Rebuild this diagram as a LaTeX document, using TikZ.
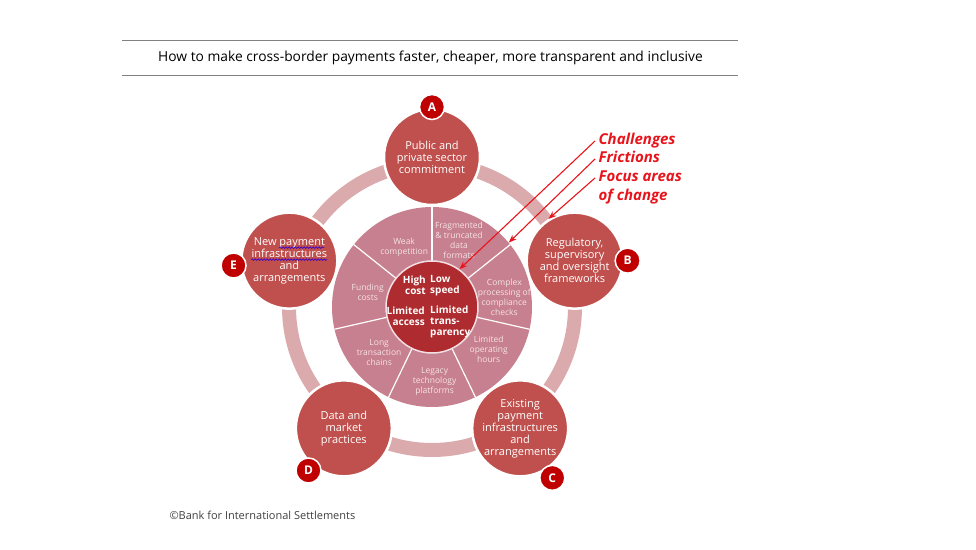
\documentclass[tikz,border=0pt]{standalone}
\usepackage{fontspec}
\setmainfont{Open Sans}
\usetikzlibrary{arrows.meta, positioning, calc, decorations.pathmorphing}

\definecolor{bisred}{HTML}{C0504D}
\definecolor{coredark}{HTML}{AE2B2F}
\definecolor{wedge}{HTML}{C7808F}
\definecolor{ringpink}{HTML}{DBAAAD}
\definecolor{badgered}{HTML}{C00000}
\definecolor{callred}{HTML}{E8141B}
\definecolor{wedgetext}{HTML}{F6E2E6}

\begin{document}
\begin{tikzpicture}[x=1pt, y=1pt,
  area/.style={circle, fill=bisred, draw=white, line width=2.5pt, minimum size=96pt,
    inner sep=0pt, align=center, text=white, font=\fontsize{11}{12}\selectfont},
  badge/.style={circle, fill=badgered, draw=white, line width=1.5pt, minimum size=25pt,
    inner sep=0pt, text=white, font=\fontsize{12}{12}\selectfont\bfseries},
  friction/.style={align=center, text=wedgetext, inner sep=1pt,
    font=\fontsize{8.5}{10}\selectfont},
  challenge/.style={text=white, inner sep=1pt, font=\fontsize{10}{11}\selectfont\bfseries},
  callout/.style={anchor=west, text=callred, text height=11pt, text depth=3pt,
    font=\fontsize{15}{19}\selectfont\bfseries\itshape},
  pointer/.style={-{Stealth[length=8pt, width=6pt]}, draw=callred, line width=1.1pt},
  titlerule/.style={draw=black!50, line width=0.9pt},
  squiggle/.style={draw=blue!60!violet, line width=0.6pt, decorate,
    decoration={snake, amplitude=0.8pt, segment length=3pt}},
]
  \path[use as bounding box] (0,0) rectangle (976,549);

  % title between two rules
  \node[font=\fontsize{13.8}{15}\selectfont] (title) at (430.5,491)
    {How to make cross-border payments faster, cheaper, more transparent and inclusive};
  \draw[titlerule] (122,509) -- (738,509);
  \draw[titlerule] (122,474) -- (738,474);

  \coordinate (hub) at (432,242);

  % ring linking the focus areas
  \draw[ringpink, line width=14pt] (hub) circle[radius=143];

  % wheel of frictions
  \node[circle, fill=wedge, minimum size=200pt, inner sep=0pt] (wheel) at (hub) {};
  \foreach \i in {0,...,6}
    \draw[white, line width=1.2pt] ($(hub)+(90-\i*51.43:46)$) -- ($(hub)+(90-\i*51.43:100)$);
  \node[circle, fill=coredark, draw=white!75!wedge, line width=1.5pt, minimum size=92pt,
    inner sep=0pt] (core) at (hub) {};

  \node[friction] (f1) at ($(hub)+(115:66)$) {Weak\\competition};
  \node[friction] (f2) at ($(hub)+(68:72)$) {Fragmented\\\& truncated\\data\\formats};
  \node[friction] (f3) at ($(hub)+(8:73)$) {Complex\\processing of\\compliance\\checks};
  \node[friction] (f4) at ($(hub)+(-37:71)$) {Limited\\operating\\hours};
  \node[friction] (f5) at ($(hub)+(-88:75)$) {Legacy\\technology\\platforms};
  \node[friction] (f6) at ($(hub)+(221:70)$) {Long\\transaction\\chains};
  \node[friction] (f7) at ($(hub)+(167:66)$) {Funding\\costs};

  % challenges in the core
  \node[challenge, align=right, anchor=east] (cost) at ($(hub)+(-5,21.5)$) {High\\cost};
  \node[challenge, align=left, anchor=west] (speed) at ($(hub)+(-3,21.5)$) {Low\\speed};
  \node[challenge, align=right, anchor=east] (access) at ($(hub)+(-6,-9.5)$) {Limited\\access};
  \node[challenge, align=left, anchor=west] (transp) at ($(hub)+(-3,-15)$) {Limited\\trans-\\parency};

  % focus areas
  \node[area] (A) at ($(hub)+(90:150)$) {Public and\\private sector\\commitment};
  \node[area] (B) at ($(hub)+(18:150)$) {Regulatory,\\supervisory\\and oversight\\frameworks};
  \node[area] (C) at ($(hub)+(-54:150)$) {Existing\\payment\\infrastructures\\and\\arrangements};
  \node[area] (D) at ($(hub)+(-126:150)$) {Data and\\market\\practices};
  \node[area] (E) at ($(hub)+(162:150)$) {New payment\\infrastructures\\and\\arrangements};
  \draw[squiggle] ($(E)+(-10,13)$) -- ($(E)+(35,13)$);
  \draw[squiggle] ($(E)+(-38,1)$) -- ($(E)+(38,1)$);

  \node[badge] (bA) at ([shift={(90:50)}]A.center) {A};
  \node[badge] (bB) at ([shift={(0:53)}]B.center) {B};
  \node[badge] (bC) at ([shift={(-57:59)}]C.center) {C};
  \node[badge] (bD) at ([shift={(230:55)}]D.center) {D};
  \node[badge] (bE) at ([shift={(185:56)}]E.center) {E};

  % callouts
  \node[callout] (chal) at (595,408) {Challenges};
  \node[callout] (fric) at (595,390) {Frictions};
  \node[callout] (focus) at (595,371) {Focus areas};
  \node[callout] (change) at (595,352) {of change};
  \draw[pointer] (chal.west) -- (core.54);
  \draw[pointer] (fric.west) -- (wheel.40);
  \draw[pointer] (focus.west) -- (B.122);

  \node[anchor=west, text=black!75, font=\fontsize{11}{13}\selectfont] (credit) at (166,34)
    {©Bank for International Settlements};
\end{tikzpicture}
\end{document}
